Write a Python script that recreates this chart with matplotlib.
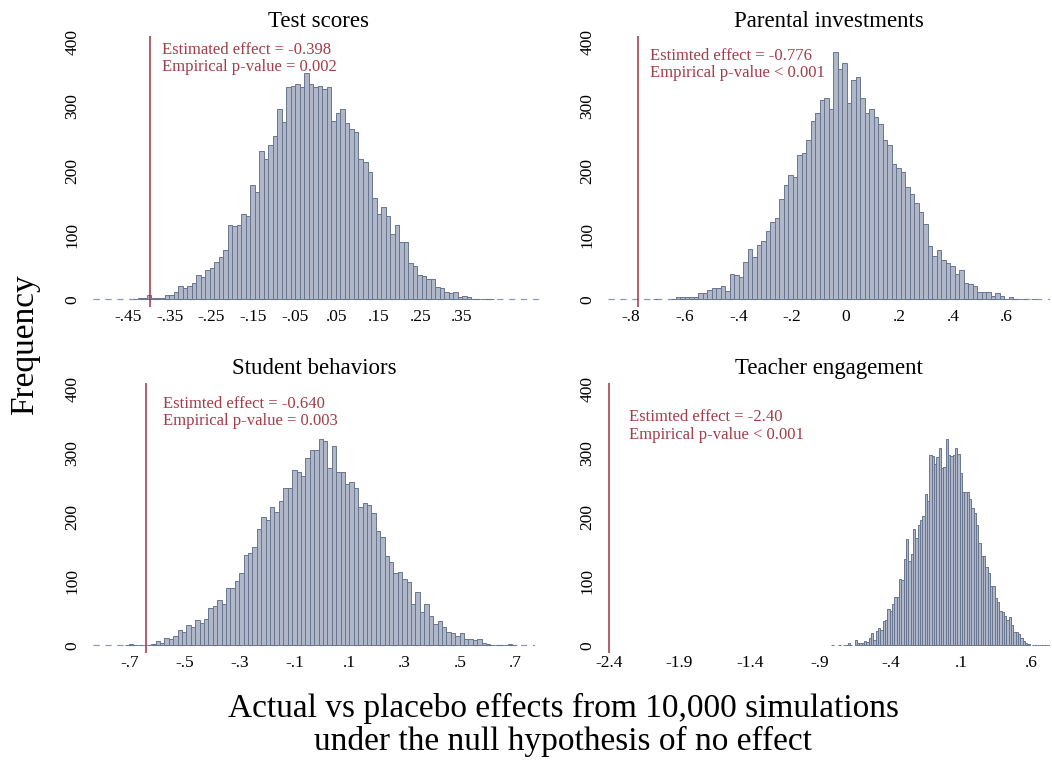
import matplotlib
matplotlib.use("Agg")
import matplotlib.pyplot as plt
import numpy as np

plt.rcParams["font.family"] = ["Liberation Serif", "DejaVu Serif"]

# ---- data (placebo effect histograms, 10,000 draws) ----
titles = ["Test scores", "Parental investments", "Student behaviors", "Teacher engagement"]
estimates = [-0.398, -0.776, -0.640, -2.40]
effect_labels = [
    "Estimated effect = -0.398",
    "Estimted effect = -0.776",
    "Estimted effect = -0.640",
    "Estimted effect = -2.40",
]
pvalue_labels = [
    "Empirical p-value = 0.002",
    "Empirical p-value < 0.001",
    "Empirical p-value = 0.003",
    "Empirical p-value < 0.001",
]

# bin start and bin width for each histogram
bin_starts = [-0.438, -0.717, -0.717, -0.821]
bin_widths = [0.0108, 0.01676, 0.0160, 0.01657]

test_counts = [
    1, 2, 2, 6, 2, 2, 2, 6, 7, 12, 21, 18, 21, 25, 38, 34, 46, 49, 58, 65,
    77, 115, 114, 115, 132, 129, 177, 166, 231, 218, 239, 253, 295, 276, 330, 331, 334, 329, 351, 334,
    329, 332, 327, 330, 277, 289, 295, 274, 264, 260, 218, 214, 197, 158, 133, 143, 130, 102, 115, 89,
    89, 56, 52, 38, 36, 32, 32, 19, 18, 12, 10, 12, 4, 5, 4, 1, 1, 1, 1, 1,
]
parent_counts = [
    1, 0, 0, 0, 1, 4, 4, 4, 4, 4, 10, 9, 14, 18, 18, 21, 13, 40, 38, 35,
    58, 78, 65, 85, 91, 106, 120, 127, 156, 177, 193, 190, 224, 228, 248, 277, 290, 309, 312, 295,
    384, 357, 367, 305, 341, 346, 312, 290, 295, 283, 272, 248, 240, 210, 204, 198, 174, 163, 149, 135,
    117, 82, 68, 76, 61, 56, 51, 39, 46, 26, 23, 21, 12, 11, 12, 5, 9, 5, 1, 3,
    1, 1, 1, 0, 1,
]
student_counts = [
    1, 2, 1, 1, 0, 1, 2, 7, 4, 11, 10, 15, 24, 21, 32, 29, 40, 35, 41, 58,
    62, 71, 64, 90, 89, 100, 112, 141, 144, 154, 181, 200, 195, 216, 208, 225, 245, 245, 273, 270,
    264, 292, 304, 304, 322, 318, 276, 310, 271, 271, 251, 254, 246, 216, 222, 219, 206, 178, 169, 140,
    130, 113, 115, 103, 99, 64, 83, 52, 64, 45, 33, 38, 28, 21, 19, 15, 19, 10, 10, 9,
    10, 4, 2, 1, 1, 1, 1, 2, 1,
]
teacher_counts = [
    1, 0, 0, 1, 0, 1, 1, 3, 1, 0, 8, 4, 3, 4, 7, 5, 12, 19, 9, 23,
    27, 24, 38, 39, 57, 54, 65, 76, 76, 104, 102, 135, 166, 131, 142, 181, 167, 188, 195, 201,
    236, 225, 296, 295, 283, 294, 308, 276, 278, 321, 297, 295, 296, 307, 298, 269, 239, 239, 239, 228,
    214, 207, 187, 160, 140, 140, 122, 112, 93, 93, 73, 67, 54, 52, 45, 40, 44, 31, 20, 20,
    18, 11, 6, 4, 2, 0, 1, 1, 1, 1, 1, 1, 1, 1,
]
all_counts = [test_counts, parent_counts, student_counts, teacher_counts]

x_ticks = [
    [-0.45, -0.35, -0.25, -0.15, -0.05, 0.05, 0.15, 0.25, 0.35],
    [-0.8, -0.6, -0.4, -0.2, 0.0, 0.2, 0.4, 0.6],
    [-0.7, -0.5, -0.3, -0.1, 0.1, 0.3, 0.5, 0.7],
    [-2.4, -1.9, -1.4, -0.9, -0.4, 0.1, 0.6],
]
x_ticklabels = [
    ["-.45", "-.35", "-.25", "-.15", "-.05", ".05", ".15", ".25", ".35"],
    ["-.8", "-.6", "-.4", "-.2", "0", ".2", ".4", ".6"],
    ["-.7", "-.5", "-.3", "-.1", ".1", ".3", ".5", ".7"],
    ["-2.4", "-1.9", "-1.4", "-.9", "-.4", ".1", ".6"],
]
y_ticks = [0, 100, 200, 300, 400]

# ---- layout ----
FIG_W, FIG_H = 1052, 760
AX_BOXES = [  # left, top, right, bottom in pixels
    (93, 36, 543, 307),
    (608, 36, 1050, 307),
    (93, 383, 535, 653),
    (608, 383, 1050, 653),
]
X_LIMS = [(-0.534, 0.544), (-0.886, 0.761), (-0.832, 0.773), (-2.407, 0.733)]
Y_LIM = (-12, 409)
TEXT_POS = [  # x, baseline of line 1, baseline of line 2 (data units)
    (-0.368, 381, 355),
    (-0.7295, 372, 345),
    (-0.577, 370, 343),
    (-2.256, 349, 322),
]
SHOW_ZERO_LINE = [True, True, True, False]

BAR_FILL = "#b0b7c9"
BAR_EDGE = "#68758f"
RED = "#9e3440"
TEXT_RED = "#a23d49"
DASH = "#8d98b4"


def draw_panel(ax, i):
    counts = np.asarray(all_counts[i], dtype=float)
    lefts = bin_starts[i] + bin_widths[i] * np.arange(len(counts))
    keep = counts > 0
    if SHOW_ZERO_LINE[i]:
        ax.axhline(0, color=DASH, lw=0.9, ls=(0, (5, 4.5)), zorder=1)
    ax.bar(lefts[keep], counts[keep], width=bin_widths[i], align="edge",
           color=BAR_FILL, edgecolor=BAR_EDGE, linewidth=0.7, zorder=2)
    ax.axvline(estimates[i], color=RED, lw=1.1, zorder=3)

    tx, y1, y2 = TEXT_POS[i]
    ax.text(tx, y1, effect_labels[i], color=TEXT_RED, fontsize=12, va="baseline", ha="left")
    ax.text(tx, y2, pvalue_labels[i], color=TEXT_RED, fontsize=12, va="baseline", ha="left")

    ax.set_xlim(*X_LIMS[i])
    ax.set_ylim(*Y_LIM)
    ax.set_xticks(x_ticks[i], x_ticklabels[i])
    ax.set_yticks(y_ticks, [str(v) for v in y_ticks])
    ax.tick_params(axis="x", length=0, pad=1.5, labelsize=12.5)
    ax.tick_params(axis="y", length=0, pad=9, labelsize=12.5, labelrotation=90)
    for lab in ax.get_yticklabels():
        lab.set_verticalalignment("center")
    for spine in ax.spines.values():
        spine.set_visible(False)
    ax.set_title(titles[i], fontsize=16.5, pad=6.5)


def main() -> None:
    fig = plt.figure(figsize=(FIG_W / 100, FIG_H / 100), dpi=100)
    fig.patch.set_facecolor("white")
    for i, (l, t, r, b) in enumerate(AX_BOXES):
        ax = fig.add_axes([l / FIG_W, 1 - b / FIG_H, (r - l) / FIG_W, (b - t) / FIG_H])
        ax.set_facecolor("white")
        draw_panel(ax, i)

    fig.text(25 / FIG_W, 1 - 345 / FIG_H, "Frequency", rotation=90, fontsize=24,
             ha="center", va="center")
    fig.text(563 / FIG_W, 1 - 725 / FIG_H,
             "Actual vs placebo effects from 10,000 simulations\nunder the null hypothesis of no effect",
             fontsize=24, ha="center", va="center", linespacing=1.05)
    fig.savefig("out.png", dpi=100, facecolor="white")
    plt.close(fig)


if __name__ == "__main__":
    main()
